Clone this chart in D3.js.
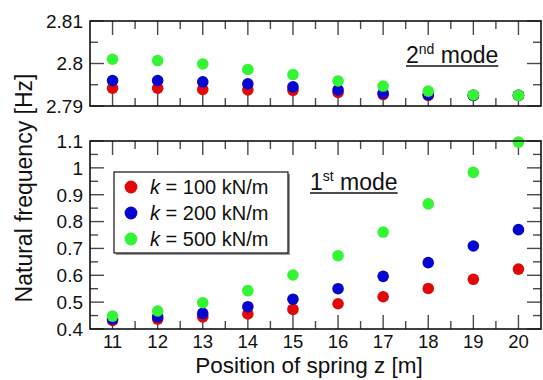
<!DOCTYPE html>
<html><head><meta charset="utf-8">
<script src="https://cdn.jsdelivr.net/npm/d3@7"></script>
<style>
html,body{margin:0;padding:0;background:#fff;}
svg{display:block;font-family:"Liberation Sans",Arial,Helvetica,sans-serif;}
</style></head>
<body>
<svg id="chart" width="543" height="380"></svg>
<script>
// ---- data ----
const positions = [11,12,13,14,15,16,17,18,19,20];
const seriesLabels = ["100","200","500"];
const seriesColors = ["#e00808","#0505d0","#33f533"];
const mode2_k100 = [2.7942,2.7942,2.7939,2.7938,2.7937,2.7932,2.7927,2.7925,2.7925,2.7925];
const mode2_k200 = [2.7960,2.7960,2.7957,2.7952,2.7945,2.7938,2.7930,2.7927,2.7925,2.7925];
const mode2_k500 = [2.8010,2.8007,2.7999,2.7986,2.7974,2.7959,2.7947,2.7935,2.7926,2.7925];
const mode1_k100 = [0.432,0.437,0.445,0.456,0.473,0.494,0.520,0.551,0.585,0.623];
const mode1_k200 = [0.437,0.445,0.458,0.483,0.511,0.550,0.596,0.647,0.709,0.770];
const mode1_k500 = [0.448,0.467,0.498,0.543,0.601,0.673,0.761,0.866,0.983,1.096];
const topTicks = [2.79,2.8,2.81];
const botTicks = [0.4,0.5,0.6,0.7,0.8,0.9,1,1.1];
const xLabel = "Position of spring z [m]";
const yLabel = "Natural frequency [Hz]";

const svg = d3.select("#chart");
const L = 90, R = 541;
const x = d3.scaleLinear().domain([10.5,20.5]).range([L,R]);
const yTop = d3.scaleLinear().domain([2.79,2.81]).range([106,21]);
const yBot = d3.scaleLinear().domain([0.4,1.1]).range([329,141]);

const tickColor = "#4a4a4a";
const fmt = d3.format("~g");
const xMinor = d3.range(10.5,20.51,0.5).filter(v=>!positions.includes(v) && v>10.5 && v<20.5);

function panel(y, ticks, showXLabels, seriesArr){
  const T = y.range()[1], B = y.range()[0];
  const g = svg.append("g");
  const xt = g.append("g").attr("stroke",tickColor).attr("stroke-width",1.4);
  positions.forEach(v=>{
    xt.append("line").attr("x1",x(v)).attr("x2",x(v)).attr("y1",T).attr("y2",T+14);
    xt.append("line").attr("x1",x(v)).attr("x2",x(v)).attr("y1",B).attr("y2",B-14);
  });
  xMinor.forEach(v=>{
    xt.append("line").attr("x1",x(v)).attr("x2",x(v)).attr("y1",T).attr("y2",T+8);
    xt.append("line").attr("x1",x(v)).attr("x2",x(v)).attr("y1",B).attr("y2",B-8);
  });
  ticks.forEach(v=>{
    xt.append("line").attr("x1",L).attr("x2",L+14).attr("y1",y(v)).attr("y2",y(v));
    xt.append("line").attr("x1",R).attr("x2",R-14).attr("y1",y(v)).attr("y2",y(v));
  });
  for(let i=0;i<ticks.length-1;i++){
    const v=(ticks[i]+ticks[i+1])/2;
    xt.append("line").attr("x1",L).attr("x2",L+8).attr("y1",y(v)).attr("y2",y(v));
    xt.append("line").attr("x1",R).attr("x2",R-8).attr("y1",y(v)).attr("y2",y(v));
  }
  g.append("g").selectAll("text").data(ticks).join("text")
    .attr("x",L-7).attr("y",d=>y(d)).attr("dy","0.36em")
    .attr("text-anchor","end").attr("font-size",19).attr("fill","#111")
    .text(d=>fmt(d));
  if(showXLabels){
    g.append("g").selectAll("text").data(positions).join("text")
      .attr("x",d=>x(d)).attr("y",B+19)
      .attr("text-anchor","middle").attr("font-size",18.5).attr("fill","#111")
      .text(d=>d);
  }
  seriesArr.forEach((vals,si)=>{
    g.append("g").selectAll("circle").data(vals).join("circle")
      .attr("cx",(d,i)=>x(positions[i])).attr("cy",d=>y(d)).attr("r",5.8)
      .attr("fill",seriesColors[si]);
  });
  g.append("rect").attr("x",L).attr("y",T).attr("width",R-L).attr("height",B-T)
    .attr("fill","none").attr("stroke","#111").attr("stroke-width",1.6);
  return g;
}

panel(yTop, topTicks, false, [mode2_k100,mode2_k200,mode2_k500]);
panel(yBot, botTicks, true, [mode1_k100,mode1_k200,mode1_k500]);

function modeLabel(x0, base, num, sup){
  const t = svg.append("text").attr("x",x0).attr("y",base).attr("font-size",23).attr("fill","#111");
  t.append("tspan").text(num);
  t.append("tspan").attr("font-size",14).attr("dy",-9).text(sup);
  t.append("tspan").attr("dy",9).text(" mode");
  const w = t.node().getComputedTextLength();
  svg.append("line").attr("x1",x0).attr("x2",x0+w).attr("y1",base+3).attr("y2",base+3)
    .attr("stroke","#111").attr("stroke-width",1.6);
}
modeLabel(406, 63, "2", "nd");
modeLabel(310, 190, "1", "st");

const lg = svg.append("g");
lg.append("rect").attr("x",116).attr("y",174).attr("width",174).attr("height",81).attr("fill","#999");
lg.append("rect").attr("x",114).attr("y",172).attr("width",174).attr("height",81)
  .attr("fill","#fff").attr("stroke","#111").attr("stroke-width",1.2);
seriesLabels.forEach((lab,i)=>{
  const cy = 187 + i*26;
  lg.append("circle").attr("cx",131).attr("cy",cy).attr("r",6.4).attr("fill",seriesColors[i]);
  const t = lg.append("text").attr("x",150).attr("y",cy+7).attr("font-size",20).attr("fill","#111");
  t.append("tspan").attr("font-style","italic").text("k");
  t.append("tspan").text(" = " + lab + " kN/m");
});

svg.append("text").attr("x",309).attr("y",373).attr("text-anchor","middle")
  .attr("font-size",22.5).attr("fill","#111").text(xLabel);
svg.append("text").attr("transform","translate(32,188) rotate(-90)").attr("text-anchor","middle")
  .attr("font-size",23).attr("fill","#111").text(yLabel);
</script>
</body></html>
